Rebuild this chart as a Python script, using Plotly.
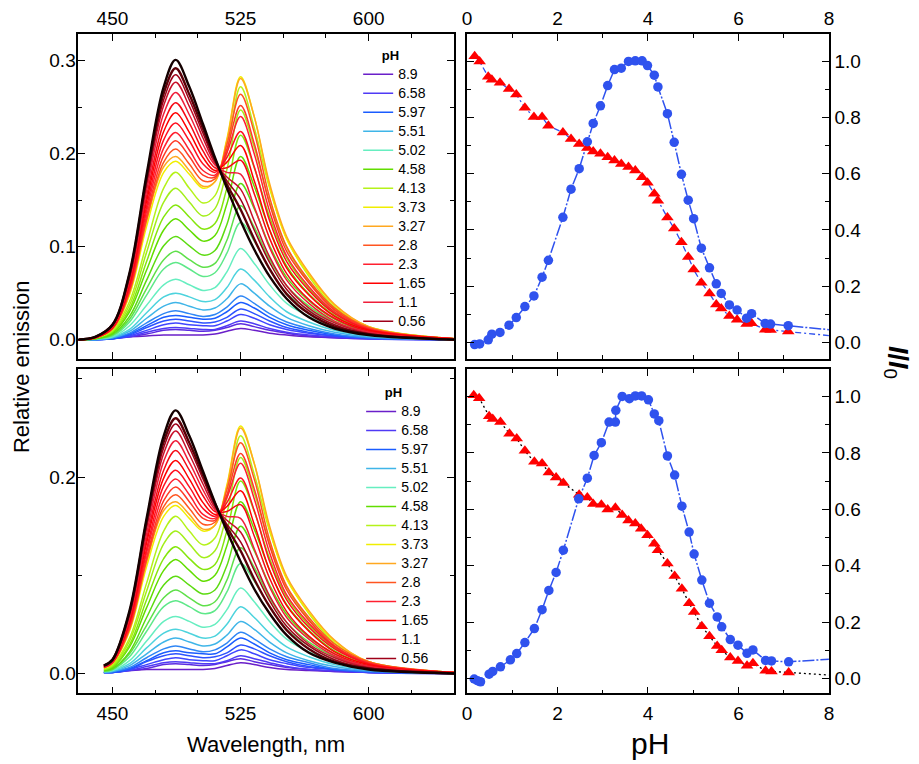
import plotly.graph_objects as go

# ---------------- data: emission spectra ----------------
WL_TOP = [430, 440, 450, 460, 470, 480, 487, 495, 503, 510, 517, 525, 533, 542, 552, 565, 580, 600, 650]
WL_BOTTOM = [445, 450, 460, 470, 480, 487, 495, 503, 510, 517, 525, 533, 542, 552, 565, 580, 600, 650]

top_c01 = [0, .001, .002, .003, .004, .005, .005, .005, .005, .006, .009, .012, .010, .007, .005, .003, .002, .001, 0]
top_c02 = [0, 0, .001, .003, .006, .010, .011, .010, .009, .010, .013, .017, .014, .010, .007, .004, .002, .001, 0]
top_c03 = [0, 0, .001, .003, .008, .012, .013, .012, .011, .011, .015, .020, .017, .012, .008, .005, .003, .001, 0]
top_c04 = [0, 0, .001, .004, .010, .016, .018, .016, .015, .015, .020, .027, .023, .016, .011, .007, .004, .001, 0]
top_c05 = [0, 0, .001, .005, .013, .020, .022, .020, .018, .019, .024, .033, .028, .020, .013, .008, .004, .002, 0]
top_c06 = [0, 0, .001, .006, .015, .024, .026, .024, .022, .023, .030, .040, .034, .024, .016, .010, .005, .002, 0]
top_c07 = [0, 0, .002, .007, .018, .028, .031, .028, .025, .027, .035, .047, .039, .028, .019, .012, .006, .002, 0]
top_c08 = [0, 0, .002, .009, .023, .036, .040, .036, .032, .034, .044, .060, .050, .036, .024, .015, .008, .003, 0]
top_c09 = [0, .001, .003, .011, .029, .046, .050, .046, .041, .043, .056, .076, .064, .046, .030, .019, .010, .004, 0]
top_c10 = [0, .001, .003, .015, .037, .059, .065, .059, .053, .056, .073, .098, .082, .059, .039, .025, .013, .005, 0]
top_c11 = [0, .001, .004, .019, .048, .076, .083, .076, .068, .072, .093, .126, .106, .076, .050, .032, .016, .006, 0]
top_c12 = [0, .001, .005, .022, .055, .086, .095, .086, .078, .082, .107, .144, .121, .086, .058, .036, .019, .007, 0]
top_c13 = [0, .001, .006, .025, .064, .101, .111, .101, .091, .096, .124, .168, .141, .101, .067, .042, .022, .008, .001]
top_c14 = [0, .001, .007, .030, .075, .118, .130, .118, .106, .112, .146, .197, .165, .118, .079, .049, .026, .010, .001]
top_c15 = [0, .002, .008, .033, .084, .132, .145, .132, .119, .125, .163, .220, .185, .132, .088, .055, .029, .011, .001]
top_c16 = [0, .002, .009, .037, .094, .148, .163, .148, .133, .141, .183, .247, .207, .148, .099, .062, .032, .012, .001]
top_c17 = [0, .002, .010, .041, .103, .163, .180, .163, .147, .155, .201, .272, .228, .163, .109, .068, .035, .014, .001]
top_c18 = [0, .002, .011, .048, .122, .180, .192, .178, .163, .170, .216, .283, .240, .165, .108, .070, .037, .014, .001]
top_c19 = [0, .002, .012, .052, .128, .186, .197, .182, .165, .170, .214, .281, .240, .168, .111, .072, .038, .014, .001]
top_c20 = [0, .002, .012, .051, .129, .191, .205, .189, .171, .173, .210, .264, .223, .153, .100, .064, .034, .013, .001]
top_c21 = [0, .002, .012, .053, .133, .198, .214, .197, .177, .175, .205, .252, .211, .146, .095, .061, .032, .012, .001]
top_c22 = [0, .002, .012, .055, .138, .206, .223, .204, .182, .177, .201, .240, .200, .138, .090, .057, .030, .011, .001]
top_c23 = [0, .002, .013, .057, .143, .215, .233, .214, .189, .180, .196, .224, .186, .128, .084, .053, .028, .011, .001]
top_c24 = [0, .002, .013, .060, .149, .224, .244, .223, .196, .182, .191, .209, .171, .118, .077, .048, .025, .010, .001]
top_c25 = [0, .003, .014, .062, .154, .233, .255, .233, .203, .185, .185, .193, .157, .109, .071, .043, .023, .009, 0]
top_c26 = [0, .003, .014, .064, .160, .243, .266, .242, .210, .188, .180, .178, .143, .099, .064, .039, .020, .008, 0]
top_c27 = [0, .003, .015, .067, .166, .252, .277, .251, .217, .190, .175, .162, .128, .089, .058, .034, .018, .007, 0]
top_c28 = [0, .003, .015, .068, .170, .258, .285, .258, .222, .192, .171, .151, .118, .083, .054, .031, .016, .006, 0]
top_c29 = [0, .003, .016, .070, .174, .265, .292, .264, .227, .194, .167, .140, .108, .076, .049, .028, .014, .006, 0]
top_c30 = [0, .003, .016, .072, .178, .272, .301, .272, .232, .196, .163, .128, .097, .068, .044, .024, .012, .005, 0]

bot_c01 = [.001, .002, .003, .004, .004, .004, .004, .004, .005, .008, .011, .009, .006, .004, .003, .002, .001, 0]
bot_c02 = [.001, .001, .003, .005, .009, .010, .009, .008, .009, .012, .015, .012, .009, .006, .004, .002, .001, 0]
bot_c03 = [.001, .001, .003, .007, .011, .012, .011, .010, .010, .013, .018, .015, .011, .007, .004, .003, .001, 0]
bot_c04 = [.001, .001, .004, .009, .014, .016, .014, .013, .013, .018, .024, .020, .014, .010, .006, .004, .001, 0]
bot_c05 = [.001, .001, .004, .012, .018, .020, .018, .016, .017, .021, .029, .025, .018, .012, .007, .004, .002, 0]
bot_c06 = [.001, .001, .005, .013, .021, .023, .021, .020, .020, .027, .036, .030, .021, .014, .009, .004, .002, 0]
bot_c07 = [.001, .002, .006, .016, .025, .028, .025, .022, .024, .031, .042, .035, .025, .017, .011, .005, .002, 0]
bot_c08 = [.001, .002, .008, .020, .032, .036, .032, .028, .030, .039, .053, .045, .032, .021, .013, .007, .003, 0]
bot_c09 = [.002, .003, .010, .026, .041, .045, .041, .036, .038, .050, .068, .057, .041, .027, .017, .009, .004, 0]
bot_c10 = [.002, .003, .013, .033, .053, .058, .053, .047, .050, .065, .087, .073, .053, .035, .022, .012, .004, 0]
bot_c11 = [.002, .004, .017, .043, .068, .074, .068, .061, .064, .083, .112, .094, .068, .045, .028, .014, .005, 0]
bot_c12 = [.002, .004, .020, .049, .077, .085, .077, .069, .073, .095, .128, .108, .077, .052, .032, .017, .006, 0]
bot_c13 = [.003, .005, .022, .057, .090, .099, .090, .081, .085, .110, .150, .125, .090, .060, .037, .020, .007, .001]
bot_c14 = [.003, .006, .027, .067, .105, .116, .105, .094, .100, .130, .175, .147, .105, .070, .044, .023, .009, .001]
bot_c15 = [.004, .007, .029, .075, .117, .129, .117, .106, .111, .145, .196, .165, .117, .078, .049, .026, .010, .001]
bot_c16 = [.004, .008, .033, .084, .132, .145, .132, .118, .125, .163, .220, .184, .132, .088, .055, .028, .011, .001]
bot_c17 = [.005, .009, .036, .092, .145, .160, .145, .131, .138, .179, .242, .203, .145, .097, .061, .031, .012, .001]
bot_c18 = [.005, .010, .043, .109, .160, .171, .158, .145, .151, .192, .252, .214, .147, .096, .062, .033, .012, .001]
bot_c19 = [.006, .011, .046, .114, .166, .175, .162, .147, .151, .190, .250, .214, .150, .099, .064, .034, .012, .001]
bot_c20 = [.006, .011, .045, .115, .170, .182, .168, .152, .154, .187, .235, .198, .136, .089, .057, .030, .012, .001]
bot_c21 = [.006, .011, .047, .118, .176, .190, .175, .158, .156, .182, .224, .188, .130, .085, .054, .028, .011, .001]
bot_c22 = [.006, .011, .049, .123, .183, .198, .182, .162, .158, .179, .214, .178, .123, .080, .051, .027, .010, .001]
bot_c23 = [.007, .012, .051, .127, .191, .207, .190, .168, .160, .174, .199, .166, .114, .075, .047, .025, .010, .001]
bot_c24 = [.007, .012, .053, .133, .199, .217, .198, .174, .162, .170, .186, .152, .105, .069, .043, .022, .009, .001]
bot_c25 = [.007, .012, .055, .137, .207, .227, .207, .181, .165, .165, .172, .140, .097, .063, .038, .020, .008, 0]
bot_c26 = [.007, .012, .057, .142, .216, .237, .215, .187, .167, .160, .158, .127, .088, .057, .035, .018, .007, 0]
bot_c27 = [.008, .013, .060, .148, .224, .247, .223, .193, .169, .156, .144, .114, .079, .052, .030, .016, .006, 0]
bot_c28 = [.008, .013, .061, .151, .230, .254, .230, .198, .171, .152, .134, .105, .074, .048, .028, .014, .005, 0]
bot_c29 = [.008, .014, .062, .155, .236, .260, .235, .202, .173, .149, .125, .096, .068, .044, .025, .012, .005, 0]
bot_c30 = [.008, .014, .064, .158, .242, .268, .242, .206, .174, .145, .114, .086, .061, .039, .021, .011, .004, 0]

TOP_SPECTRA = [top_c01, top_c02, top_c03, top_c04, top_c05, top_c06, top_c07, top_c08, top_c09, top_c10,
               top_c11, top_c12, top_c13, top_c14, top_c15, top_c16, top_c17, top_c18, top_c19, top_c20,
               top_c21, top_c22, top_c23, top_c24, top_c25, top_c26, top_c27, top_c28, top_c29, top_c30]
BOTTOM_SPECTRA = [bot_c01, bot_c02, bot_c03, bot_c04, bot_c05, bot_c06, bot_c07, bot_c08, bot_c09, bot_c10,
                  bot_c11, bot_c12, bot_c13, bot_c14, bot_c15, bot_c16, bot_c17, bot_c18, bot_c19, bot_c20,
                  bot_c21, bot_c22, bot_c23, bot_c24, bot_c25, bot_c26, bot_c27, bot_c28, bot_c29, bot_c30]

# legend labels (None = curve not listed in the legend)
SPECTRA_NAMES = ["8.9", None, "6.58", None, None, "5.97", None, "5.51", None, "5.02",
                 None, None, None, "4.58", None, None, "4.13", "3.73", "3.27", "2.8",
                 None, "2.3", None, "1.65", None, "1.1", None, "0.56", None, None]

# ---------------- data: titration (I/I0 vs pH) ----------------
PH_TOP = [0.17, 0.28, 0.47, 0.55, 0.73, 0.93, 1.09, 1.28, 1.48, 1.66, 1.80, 2.12, 2.30, 2.48, 2.66,
          2.79, 2.95, 3.11, 3.26, 3.41, 3.57, 3.72, 3.87, 3.99, 4.14, 4.22, 4.43, 4.58, 4.74, 4.89,
          5.01, 5.18, 5.36, 5.51, 5.62, 5.80, 5.97, 6.18, 6.29, 6.59, 6.71, 7.10]
CIRCLES_TOP = [-0.008, -0.006, 0.009, 0.029, 0.035, 0.061, 0.088, 0.127, 0.165, 0.232, 0.292, 0.445,
               0.545, 0.618, 0.714, 0.779, 0.842, 0.914, 0.971, 0.976, 1.0, 1.002, 1.002, 0.985,
               0.951, 0.909, 0.814, 0.712, 0.598, 0.506, 0.44, 0.335, 0.265, 0.208, 0.174, 0.133,
               0.115, 0.086, 0.102, 0.067, 0.065, 0.059]
TRIANGLES_TOP = [1.018, 1.0, 0.945, 0.935, 0.924, 0.902, 0.882, 0.835, 0.802, 0.802, 0.771, 0.747,
                 0.724, 0.706, 0.692, 0.679, 0.671, 0.659, 0.647, 0.635, 0.624, 0.612, 0.588, 0.568,
                 0.529, 0.504, 0.444, 0.405, 0.356, 0.304, 0.259, 0.212, 0.174, 0.135, 0.12, 0.094,
                 0.08, 0.065, 0.068, 0.045, 0.044, 0.038]
CIRCLES_TOP_END = (8.0, 0.045)
TRIANGLES_TOP_END = (8.0, 0.024)

PH_CIRCLES_BOT = [0.16, 0.23, 0.30, 0.49, 0.57, 0.74, 0.96, 1.10, 1.28, 1.49, 1.66, 1.81, 1.97, 2.13,
                  2.47, 2.66, 2.81, 2.97, 3.14, 3.28, 3.29, 3.43, 3.59, 3.72, 3.86, 4.01, 4.14, 4.24,
                  4.43, 4.59, 4.75, 4.91, 5.02, 5.19, 5.36, 5.53, 5.63, 5.82, 5.99, 6.19, 6.32, 6.60,
                  6.73, 7.11]
CIRCLES_BOT = [-0.002, -0.008, -0.012, 0.015, 0.025, 0.041, 0.066, 0.088, 0.127, 0.177, 0.244, 0.312,
               0.376, 0.455, 0.637, 0.710, 0.791, 0.836, 0.909, 0.909, 0.951, 1.0, 0.992, 1.002, 1.002,
               0.988, 0.938, 0.914, 0.789, 0.721, 0.611, 0.519, 0.441, 0.349, 0.267, 0.218, 0.183,
               0.138, 0.118, 0.089, 0.101, 0.064, 0.062, 0.059]
PH_TRIANGLES_BOT = [0.15, 0.27, 0.49, 0.57, 0.74, 0.94, 1.10, 1.28, 1.49, 1.66, 1.81, 1.97, 2.13, 2.48,
                    2.66, 2.79, 2.97, 3.11, 3.28, 3.43, 3.57, 3.72, 3.85, 3.99, 4.14, 4.22, 4.43, 4.59,
                    4.75, 4.91, 5.02, 5.19, 5.36, 5.53, 5.63, 5.82, 5.99, 6.19, 6.32, 6.60, 6.73, 7.11]
TRIANGLES_BOT = [1.004, 0.994, 0.93, 0.92, 0.909, 0.868, 0.851, 0.807, 0.768, 0.762, 0.730, 0.713,
                 0.693, 0.651, 0.642, 0.619, 0.616, 0.599, 0.605, 0.580, 0.560, 0.549, 0.531, 0.508,
                 0.478, 0.455, 0.408, 0.363, 0.318, 0.267, 0.236, 0.185, 0.150, 0.115, 0.100, 0.074,
                 0.062, 0.045, 0.054, 0.027, 0.025, 0.021]
CIRCLES_BOT_END = (8.0, 0.068)
TRIANGLES_BOT_END = (8.0, 0.012)

# ---------------- styles ----------------
CURVE_COLORS = ["#6a1fc9", "#5c2be0", "#4f3af5", "#3f45ff", "#2c52ff", "#1a5cff", "#2f86f5", "#3fb5e8",
                "#4dd3dd", "#66eec0", "#5ee889", "#5fe04a", "#5cdb10", "#62dd00", "#85e60d", "#a3ee1a",
                "#b5f21a", "#f0ee00", "#ffa820", "#ff5520", "#ff3a25", "#ff2030", "#ff1020", "#ff0000",
                "#f50a15", "#ef1e3a", "#c8102a", "#9e0018", "#5a0008", "#140000"]
FONT = "Arial, Liberation Sans, sans-serif"
BLUE = "#2f52ee"
RED = "#ff0000"
OFF = 8                      # default page margin of the html body
FW, FH = 919 - OFF, 764 - OFF


def px_x(p):
    return (p - OFF) / FW


def px_y(p):
    return 1 - (p - OFF) / FH


fig = go.Figure()

# spectra
for wl, spectra, xa, ya, leg in [(WL_TOP, TOP_SPECTRA, "x", "y", "legend"),
                                 (WL_BOTTOM, BOTTOM_SPECTRA, "x2", "y2", "legend2")]:
    for i, vals in enumerate(spectra):
        name = SPECTRA_NAMES[i]
        width = 2.4 if i >= 28 else 1.5
        fig.add_trace(go.Scatter(
            x=wl, y=vals, mode="lines", xaxis=xa, yaxis=ya,
            line=dict(color=CURVE_COLORS[i], width=width, shape="spline", smoothing=1.0),
            name=('<span style="font-size:14px">%s</span>' % name) if name else "",
            showlegend=bool(name), legend=leg, hoverinfo="skip"))


def add_titration(px_c, yc, c_end, px_t, yt, t_end, xa, ya, tri_line_color, tri_dash):
    fig.add_trace(go.Scatter(x=px_t + [t_end[0]], y=yt + [t_end[1]], mode="lines", xaxis=xa, yaxis=ya,
                             line=dict(color=tri_line_color, width=1.3, dash=tri_dash),
                             showlegend=False, hoverinfo="skip"))
    fig.add_trace(go.Scatter(x=px_c + [c_end[0]], y=yc + [c_end[1]], mode="lines", xaxis=xa, yaxis=ya,
                             line=dict(color=BLUE, width=1.5, dash="12px,2px,2px,2px"),
                             showlegend=False, hoverinfo="skip"))
    fig.add_trace(go.Scatter(x=px_t, y=yt, mode="markers", xaxis=xa, yaxis=ya,
                             marker=dict(symbol="triangle-up", size=11, color=RED, line=dict(width=0)),
                             showlegend=False, hoverinfo="skip"))
    fig.add_trace(go.Scatter(x=px_c, y=yc, mode="markers", xaxis=xa, yaxis=ya,
                             marker=dict(symbol="circle", size=9.5, color=BLUE, line=dict(width=0)),
                             showlegend=False, hoverinfo="skip"))


add_titration(PH_TOP, CIRCLES_TOP, CIRCLES_TOP_END, PH_TOP, TRIANGLES_TOP, TRIANGLES_TOP_END,
              "x3", "y3", BLUE, "6px,3px,2px,3px")
add_titration(PH_CIRCLES_BOT, CIRCLES_BOT, CIRCLES_BOT_END, PH_TRIANGLES_BOT, TRIANGLES_BOT, TRIANGLES_BOT_END,
              "x4", "y4", "#000000", "2px,3px")

axis_common = dict(showline=True, linecolor="black", linewidth=1.5, mirror="allticks",
                   ticks="inside", ticklen=7, tickwidth=1.3, tickcolor="black",
                   showgrid=False, zeroline=False,
                   tickfont=dict(family=FONT, size=19, color="black"))


def minor(t0, dt):
    return dict(ticks="inside", ticklen=4, tick0=t0, dtick=dt, tickcolor="black", tickwidth=1.2)


XL = [px_x(74), px_x(454)]
XR = [px_x(467), px_x(833)]
YT = [px_y(357), px_y(30)]
YB = [px_y(693), px_y(367)]

legend_common = dict(xanchor="left", yanchor="top", bgcolor="rgba(0,0,0,0)",
                     font=dict(family=FONT, size=12, color="black"), itemwidth=30, tracegroupgap=0,
                     title=dict(text="&nbsp;&nbsp;&nbsp;&nbsp;&nbsp;&nbsp;<b>pH</b>", side="top",
                                font=dict(family=FONT, size=13, color="black")))

ann_common = dict(xref="paper", yref="paper", xanchor="center", yanchor="middle", showarrow=False)

fig.update_layout(
    width=FW, height=FH, margin=dict(l=0, r=0, t=0, b=0),
    paper_bgcolor="white", plot_bgcolor="white",
    font=dict(family=FONT, color="black"),
    xaxis=dict(axis_common, domain=XL, anchor="y", range=[430, 650], side="top",
               tick0=450, dtick=75, minor=minor(450, 25)),
    yaxis=dict(axis_common, domain=YT, anchor="x", range=[-0.021, 0.329], tick0=0, dtick=0.1,
               tickformat=".1f", ticklabelstandoff=-3, minor=minor(0, 0.05)),
    xaxis2=dict(axis_common, domain=XL, anchor="y2", range=[430, 650], side="bottom",
                tick0=450, dtick=75, ticklabelstandoff=2, minor=minor(450, 25)),
    yaxis2=dict(axis_common, domain=YB, anchor="x2", range=[-0.0203, 0.310], tick0=0, dtick=0.2,
                tickformat=".1f", ticklabelstandoff=-3, minor=minor(0, 0.1)),
    xaxis3=dict(axis_common, domain=XR, anchor="y3", range=[0, 8], side="top", tick0=0, dtick=2,
                minor=minor(0, 1)),
    yaxis3=dict(axis_common, domain=YT, anchor="x3", side="right", range=[-0.06, 1.098], tick0=0, dtick=0.2,
                tickformat=".1f", minor=minor(0, 0.1)),
    xaxis4=dict(axis_common, domain=XR, anchor="y4", range=[0, 8], side="bottom", tick0=0, dtick=2,
                ticklabelstandoff=2, minor=minor(0, 1)),
    yaxis4=dict(axis_common, domain=YB, anchor="x4", side="right", range=[-0.053, 1.097], tick0=0, dtick=0.2,
                tickformat=".1f", minor=minor(0, 0.1)),
    legend=dict(legend_common, x=px_x(357), y=px_y(39)),
    legend2=dict(legend_common, x=px_x(360), y=px_y(378)),
    annotations=[
        dict(ann_common, text="Relative emission", x=px_x(16), y=px_y(365),
             textangle=-90, font=dict(family=FONT, size=22, color="black")),
        dict(ann_common, text="Wavelength, nm", x=px_x(264), y=px_y(744),
             font=dict(family=FONT, size=22, color="black")),
        dict(ann_common, text="pH", x=px_x(652), y=px_y(743),
             font=dict(family=FONT, size=30, color="black")),
        dict(ann_common, text="<b><i>I</i>/<i>I</i></b><sub>0</sub>", x=px_x(901), y=px_y(360),
             textangle=90, font=dict(family=FONT, size=27, color="black")),
    ],
)

fig.write_html("out.html", config={"displayModeBar": False})
